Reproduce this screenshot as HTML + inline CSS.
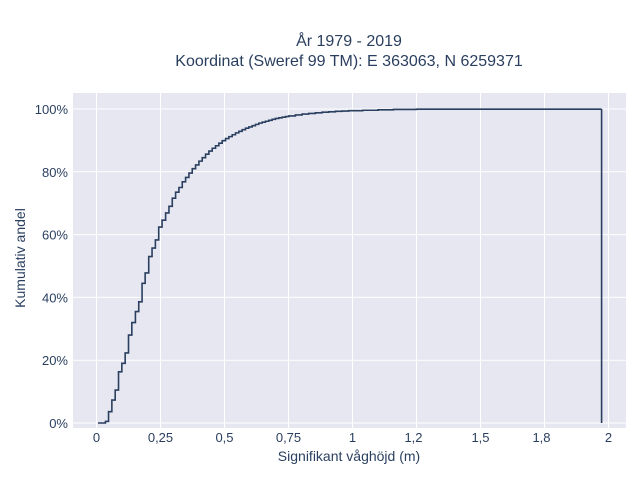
<!DOCTYPE html>
<html><head><meta charset="utf-8"><style>
body{margin:0;background:#fff}
svg text{font-family:"Liberation Sans",sans-serif;fill:#2a3f5f}
</style></head><body>
<svg id="chart" width="640" height="480" xmlns="http://www.w3.org/2000/svg">
<rect x="0" y="0" width="640" height="480" fill="#fff"/>
<rect x="73" y="93" width="553" height="335" style="fill:#e6e7f0"/>
<g id="grid"></g>
<g id="ticks"></g>
<path id="series" fill="none" stroke="#2a3f5f" stroke-width="1.6"/>
<text x="349" y="46" text-anchor="middle" font-size="16">År 1979 - 2019</text>
<text x="349" y="66" text-anchor="middle" font-size="16">Koordinat (Sweref 99 TM): E 363063, N 6259371</text>
<text x="349" y="461" text-anchor="middle" font-size="14">Signifikant våghöjd (m)</text>
<text transform="translate(25,258) rotate(-90)" text-anchor="middle" font-size="14">Kumulativ andel</text>
</svg>
<script>
const xValues=[0.006,0.035,0.047,0.06,0.073,0.086,0.099,0.112,0.125,0.138,0.152,0.165,0.178,0.19,0.204,0.217,0.23,0.243,0.256,0.27,0.283,0.296,0.309,0.322,0.335,0.348,0.361,0.374,0.387,0.400,0.413,0.426,0.439,0.452,0.465,0.478,0.491,0.504,0.517,0.530,0.543,0.556,0.569,0.582,0.595,0.608,0.621,0.634,0.647,0.660,0.673,0.686,0.699,0.712,0.725,0.738,0.751,0.777,0.803,0.829,0.855,0.881,0.907,0.933,0.959,0.985,1.04,1.1,1.16,1.25,1.973];
const cdfValues=[0,0.5,3.6,7.3,10.5,16.3,19,22.3,28,32,35.5,38.6,44.5,47.8,53,55.7,58.3,62.4,64.6,66.9,69,71.6,73.5,75,76.8,78.2,79.6,81,82.2,83.4,84.5,85.6,86.6,87.5,88.3,89.1,89.9,90.6,91.2,91.8,92.4,92.9,93.4,93.9,94.3,94.7,95.1,95.5,95.8,96.1,96.4,96.7,97.0,97.2,97.4,97.6,97.8,98.1,98.4,98.6,98.8,99.0,99.1,99.25,99.35,99.45,99.6,99.75,99.85,99.95,100];
const xTicks=[0,0.25,0.5,0.75,1,1.25,1.5,1.75,2];
const xTickLabels=["0","0,25","0,5","0,75","1","1,2","1,5","1,8","2"];
const yTicks=[0,20,40,60,80,100];
const yTickLabels=["0%","20%","40%","60%","80%","100%"];
const X=v=>96.5+v*256;
const Y=v=>423-v*3.14;
const ns="http://www.w3.org/2000/svg";
const grid=document.getElementById('grid'),ticks=document.getElementById('ticks');
xTicks.forEach((t,i)=>{
 const l=document.createElementNS(ns,'line');
 
 
 l.setAttribute('x1',X(t));l.setAttribute('x2',X(t));l.setAttribute('y1',93);l.setAttribute('y2',428);
 l.setAttribute('stroke','#fff');grid.appendChild(l);
 const tx=document.createElementNS(ns,'text');
 
 
 tx.setAttribute('x',X(t)-(i==5||i==7?3:0));tx.setAttribute('y',442);tx.setAttribute('text-anchor','middle');tx.setAttribute('font-size','13');
 tx.textContent=xTickLabels[i];ticks.appendChild(tx);
});
yTicks.forEach((t,i)=>{
 const l=document.createElementNS(ns,'line');
 
 
 l.setAttribute('x1',73);l.setAttribute('x2',626);l.setAttribute('y1',Y(t));l.setAttribute('y2',Y(t));
 l.setAttribute('stroke','#fff');grid.appendChild(l);
 const tx=document.createElementNS(ns,'text');
 
 
 tx.setAttribute('x',68);tx.setAttribute('y',Y(t)+5);tx.setAttribute('text-anchor','end');tx.setAttribute('font-size','13');
 tx.textContent=yTickLabels[i];ticks.appendChild(tx);
});
let d='M'+X(xValues[0])+','+Y(cdfValues[0]);
for(let i=1;i<xValues.length;i++){d+=' H'+X(xValues[i])+' V'+Y(cdfValues[i]);}
d+=' V'+Y(0);
document.getElementById('series').setAttribute('d',d);
</script>
</body></html>
